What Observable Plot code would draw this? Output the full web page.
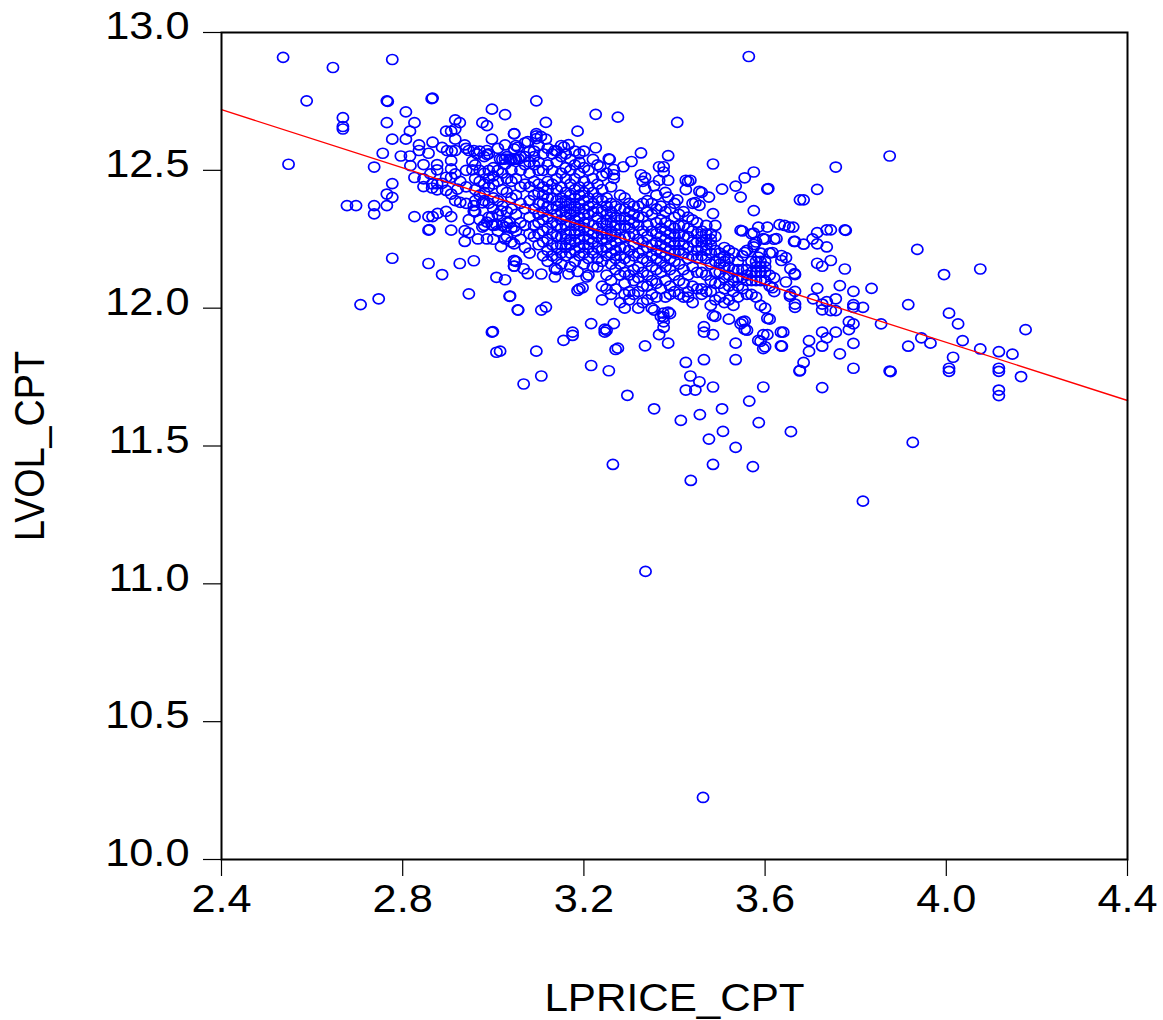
<!DOCTYPE html>
<html><head><meta charset="utf-8">
<script src="https://cdn.jsdelivr.net/npm/d3@7"></script>
<script src="https://cdn.jsdelivr.net/npm/@observablehq/plot@0.6"></script>
<style>html,body{margin:0;padding:0;background:#fff}svg{display:block}</style>
</head><body><div id="chart"></div>
<script>
const xTicks = [2.4,2.8,3.2,3.6,4.0,4.4];
const yTicks = [10,10.5,11,11.5,12,12.5,13];
const fitPrice = [2.4,4.4];
const fitVol = [12.72,11.665];

// Scattered points read one at a time: [LPRICE_CPT, LVOL_CPT]
const upperLeft = [[2.536,12.91],[2.646,12.873],[2.777,12.902],[2.588,12.752],[2.765,12.752],[2.767,12.75],[2.866,12.762],[2.864,12.76],[2.807,12.712],[2.668,12.691],[2.668,12.659],[2.668,12.65],[2.765,12.673],[2.826,12.673],[2.816,12.642],[2.807,12.613],[2.777,12.613],[2.548,12.522],[2.756,12.562],[2.737,12.512],[2.796,12.552],[2.816,12.552],[2.836,12.592],[2.836,12.572],[2.857,12.562],[2.866,12.602],[2.887,12.583],[2.916,12.683],[2.926,12.673],[2.896,12.642],[2.907,12.642],[2.916,12.65],[2.916,12.613],[2.937,12.592],[2.997,12.722],[3.026,12.702],[2.976,12.673],[2.986,12.662],[3.046,12.632],[2.997,12.613],[3.026,12.592],[2.817,12.517],[2.846,12.521],[2.876,12.521],[2.876,12.502],[2.826,12.474],[2.846,12.469],[2.846,12.441],[2.861,12.487],[2.865,12.451],[2.865,12.436],[2.876,12.451],[2.876,12.429],[2.887,12.453],[2.907,12.535],[2.907,12.505],[2.907,12.475],[2.896,12.475],[2.896,12.427],[2.907,12.414],[2.916,12.572],[2.898,12.572],[2.908,12.57],[2.927,12.46],[2.916,12.487],[2.921,12.432],[2.916,12.39],[2.927,12.384],[2.946,12.572],[2.957,12.572],[2.964,12.56],[2.986,12.572],[2.986,12.557],[2.954,12.533],[2.954,12.502],[3.015,12.541],[3.026,12.541],[3.036,12.541],[3.046,12.541],[3.056,12.541],[3.026,12.522],[3.046,12.578],[3.054,12.584]];
const lowerLeft = [[2.777,12.452],[2.765,12.414],[2.777,12.402],[2.677,12.372],[2.697,12.372],[2.737,12.372],[2.737,12.342],[2.765,12.372],[2.826,12.332],[2.857,12.332],[2.866,12.332],[2.877,12.344],[2.896,12.351],[2.907,12.332],[2.857,12.283],[2.859,12.285],[2.907,12.283],[2.946,12.321],[2.937,12.281],[2.946,12.273],[2.937,12.242],[2.966,12.251],[2.986,12.251],[2.957,12.372],[2.957,12.352],[2.976,12.382],[2.997,12.332],[3.017,12.353],[2.986,12.312],[2.997,12.302],[3.007,12.302],[2.976,12.294],[3.026,12.294],[3.036,12.312],[3.046,12.294],[3.026,12.251],[3.017,12.223],[3.046,12.233],[2.777,12.181],[2.857,12.162],[2.926,12.162],[2.957,12.172],[2.887,12.122],[3.007,12.112],[3.026,12.103],[2.946,12.052],[3.036,12.043],[2.707,12.013],[2.747,12.034],[3.054,11.994],[2.997,11.913],[2.999,11.915],[3.007,11.84],[3.046,12.173],[3.046,12.152]];
const upperMiddle = [[3.095,12.752],[3.226,12.703],[3.275,12.693],[3.116,12.674],[3.406,12.674],[3.046,12.633],[3.186,12.642],[3.095,12.633],[3.095,12.625],[3.095,12.615],[3.105,12.623],[3.116,12.613],[3.076,12.604],[3.166,12.593],[3.156,12.585],[3.136,12.572],[3.226,12.582],[3.326,12.563],[3.386,12.553],[3.485,12.523],[3.305,12.532],[3.255,12.542],[3.257,12.54],[3.287,12.513],[3.236,12.513],[3.266,12.503],[3.266,12.484],[3.266,12.471],[3.326,12.484],[3.335,12.474],[3.366,12.513],[3.376,12.513],[3.376,12.494],[3.366,12.464],[3.386,12.464],[3.355,12.444],[3.335,12.433],[3.575,12.494],[3.555,12.473],[3.535,12.443],[3.505,12.432],[3.605,12.432],[3.607,12.434],[3.425,12.464],[3.435,12.464],[3.425,12.43],[3.43,12.46],[3.455,12.424],[3.476,12.403],[3.546,12.403],[3.386,12.403],[3.406,12.393],[3.575,12.354],[3.485,12.343],[3.446,12.383],[3.455,12.373],[3.564,12.913],[3.677,12.393]];
const rightSide = [[3.546,12.282],[3.585,12.294],[3.605,12.294],[3.632,12.303],[3.643,12.3],[3.653,12.294],[3.662,12.294],[3.575,12.272],[3.596,12.252],[3.625,12.252],[3.664,12.242],[3.575,12.231],[3.575,12.222],[3.555,12.202],[3.616,12.202],[3.636,12.191],[3.646,12.183],[3.585,12.185],[3.636,12.173],[3.656,12.143],[3.665,12.125],[3.646,12.095],[3.616,12.074],[3.875,12.552],[3.756,12.512],[3.715,12.431],[3.685,12.393],[3.936,12.213],[4.075,12.142],[3.995,12.122],[3.776,12.284],[3.778,12.282],[3.745,12.284],[3.736,12.284],[3.715,12.274],[3.705,12.251],[3.666,12.242],[3.685,12.232],[3.715,12.233],[3.736,12.222],[3.715,12.163],[3.726,12.152],[3.745,12.173],[3.776,12.142],[3.666,12.122],[3.715,12.072],[3.765,12.082],[3.795,12.061],[3.835,12.072],[3.666,12.061],[3.655,12.05],[3.655,12.043],[3.666,12.015],[3.666,12.003],[3.706,12.034],[3.726,12.015],[3.726,11.994],[3.736,12.024],[3.745,11.991],[3.756,12.034],[3.756,11.991],[3.795,12.013],[3.795,12.003],[3.816,12.003],[3.916,12.013],[3.785,11.951],[3.795,11.943],[3.785,11.922],[3.856,11.943],[4.006,11.982],[4.026,11.943],[4.175,11.922],[3.726,11.913],[3.756,11.913],[3.736,11.892],[3.697,11.882],[3.726,11.862],[3.697,11.843],[3.795,11.872],[3.765,11.834],[3.916,11.862],[3.945,11.892],[3.965,11.873],[4.036,11.882],[4.015,11.822],[4.075,11.852],[4.116,11.842],[4.146,11.833],[4.165,11.752],[4.006,11.782],[4.006,11.771],[4.116,11.782],[4.116,11.771],[4.116,11.703],[4.116,11.683],[3.875,11.772],[3.877,11.77],[3.795,11.782],[3.685,11.803],[3.676,11.772],[3.726,11.712],[3.657,11.552],[3.926,11.513],[3.64,11.913],[3.637,11.862],[3.816,11.3]];
const lowerMiddle = [[3.076,12.125],[3.067,12.143],[3.046,12.173],[3.046,12.153],[3.106,12.124],[3.136,12.144],[3.136,12.113],[3.166,12.124],[3.186,12.133],[3.206,12.113],[3.037,12.044],[3.055,11.993],[3.106,11.993],[3.116,12.004],[3.186,12.064],[3.197,12.074],[3.216,11.944],[3.155,11.883],[3.175,11.913],[3.175,11.901],[3.266,11.944],[3.246,11.924],[3.246,11.913],[3.015,11.844],[3.095,11.844],[3.275,11.855],[3.335,11.863],[3.376,11.968],[3.376,11.95],[3.376,11.93],[3.366,11.904],[3.386,11.873],[3.386,11.986],[3.375,11.982],[3.355,11.993],[3.216,11.792],[3.255,11.773],[3.106,11.754],[3.067,11.725],[3.296,11.684],[3.355,11.635],[3.425,11.803],[3.465,11.813],[3.535,11.813],[3.435,11.754],[3.455,11.733],[3.425,11.703],[3.446,11.703],[3.485,11.714],[3.596,11.714],[3.565,11.663],[3.505,11.635],[3.465,11.933],[3.465,11.913],[3.485,11.904],[3.485,11.973],[3.555,11.953],[3.546,11.943],[3.555,11.923],[3.535,11.873],[3.596,11.904],[3.605,11.904],[3.585,11.883],[3.596,11.853],[3.635,11.913],[3.635,11.863],[3.605,11.963],[3.336,11.045],[3.463,10.225],[3.436,11.375],[3.264,11.433],[3.573,11.425],[3.485,11.433],[3.535,11.495],[3.476,11.525],[3.507,11.553],[3.456,11.614],[3.586,11.585],[3.414,11.593],[3.677,11.774]];

// The dense body of the cloud, read column by column
const coreX = [2.94,2.96,2.97,2.98,2.99,3.00,3.01,3.02,3.03,3.04,3.05,3.06,3.07,3.08,3.09,3.10,3.11,3.12,3.13,3.14,3.15,3.16,3.17,3.18,3.19,3.20,3.21,3.22,3.23,3.24,3.25,3.26,3.27,3.28,3.29,3.30,3.31,3.32,3.33,3.34,3.35,3.36,3.37,3.38,3.39,3.40,3.41,3.42,3.43,3.44,3.45,3.46,3.47,3.48,3.49,3.50,3.51,3.52,3.53,3.54,3.55,3.56,3.57,3.58,3.59,3.60,3.61,3.62];
const coreY = [
[12.58,12.50,12.44,12.38],
[12.52,12.47,12.43,12.39,12.35],
[12.57,12.50,12.46,12.41,12.32],
[12.55,12.49,12.45,12.42,12.39,12.30],
[12.56,12.50,12.47,12.44,12.38,12.33],
[12.51,12.48,12.45,12.40,12.36,12.30,12.25],
[12.58,12.50,12.46,12.39,12.34,12.28],
[12.54,12.49,12.43,12.37,12.30],
[12.55,12.47,12.42,12.35,12.31,12.26],
[12.54,12.50,12.46,12.40,12.36,12.29,12.24],
[12.59,12.54,12.47,12.41,12.34,12.28,12.17],
[12.55,12.50,12.44,12.38,12.31,12.25],
[12.60,12.55,12.52,12.45,12.36,12.30,12.22],
[12.57,12.53,12.49,12.44,12.39,12.33,12.27,12.20],
[12.57,12.55,12.52,12.46,12.41,12.36,12.30,12.26],
[12.59,12.53,12.50,12.45,12.42,12.38,12.34,12.31,12.27,12.23],
[12.56,12.50,12.44,12.41,12.38,12.35,12.32,12.28,12.24,12.19],
[12.58,12.52,12.46,12.43,12.40,12.37,12.33,12.29,12.25,12.21,12.17],
[12.56,12.50,12.45,12.40,12.36,12.31,12.27,12.23,12.19],
[12.57,12.53,12.47,12.43,12.39,12.37,12.34,12.30,12.26,12.22,12.18,12.14],
[12.59,12.55,12.49,12.44,12.40,12.38,12.35,12.32,12.29,12.26,12.23,12.20,12.16],
[12.56,12.51,12.47,12.42,12.39,12.37,12.35,12.33,12.30,12.27,12.25,12.22,12.19],
[12.54,12.50,12.45,12.41,12.38,12.36,12.34,12.31,12.28,12.25,12.23,12.20,12.15],
[12.57,12.52,12.47,12.43,12.40,12.37,12.35,12.32,12.30,12.27,12.24,12.21,12.17],
[12.56,12.53,12.49,12.44,12.41,12.38,12.36,12.33,12.30,12.28,12.25,12.22,12.19,12.07],
[12.57,12.51,12.46,12.42,12.39,12.36,12.34,12.31,12.29,12.26,12.23,12.20,12.16],
[12.50,12.44,12.40,12.37,12.34,12.31,12.28,12.25,12.22,12.18,12.12],
[12.54,12.47,12.42,12.38,12.35,12.30,12.27,12.24,12.20,12.15],
[12.52,12.45,12.40,12.36,12.33,12.29,12.26,12.22,12.18,12.15],
[12.48,12.43,12.39,12.35,12.31,12.27,12.25,12.21,12.17,12.08,12.03],
[12.49,12.40,12.37,12.34,12.32,12.30,12.27,12.25,12.22,12.19,12.12,12.07,11.92],
[12.44,12.38,12.35,12.33,12.31,12.28,12.26,12.23,12.20,12.16,12.10,12.05],
[12.37,12.33,12.30,12.27,12.24,12.21,12.18,12.14,12.07,11.85],
[12.41,12.36,12.32,12.29,12.25,12.22,12.19,12.16,12.12,12.02],
[12.40,12.36,12.33,12.30,12.26,12.22,12.18,12.13,12.09,12.05,12.00],
[12.38,12.35,12.32,12.29,12.26,12.21,12.17,12.12,12.06,12.03],
[12.37,12.34,12.31,12.27,12.23,12.19,12.14,12.10,12.05],
[12.37,12.33,12.30,12.25,12.20,12.15,12.11,12.06,12.00],
[12.46,12.38,12.33,12.28,12.24,12.21,12.18,12.13,12.08,12.02],
[12.39,12.35,12.30,12.26,12.22,12.17,12.12,12.08,12.03],
[12.38,12.34,12.28,12.23,12.19,12.15,12.10,12.05,12.00],
[12.41,12.36,12.31,12.27,12.24,12.21,12.18,12.14,12.09,12.04],
[12.37,12.32,12.29,12.26,12.23,12.20,12.17,12.13,12.07,11.97],
[12.42,12.35,12.31,12.28,12.25,12.22,12.19,12.15,12.10,12.04],
[12.36,12.30,12.27,12.24,12.21,12.18,12.14,12.08,12.05,11.98],
[12.38,12.33,12.29,12.26,12.23,12.20,12.17,12.12,12.06],
[12.34,12.30,12.27,12.24,12.21,12.16,12.10,12.05],
[12.35,12.30,12.26,12.23,12.20,12.14,12.09,12.04],
[12.33,12.29,12.26,12.22,12.18,12.12,12.06,12.04],
[12.38,12.32,12.28,12.24,12.19,12.15,12.08,12.02],
[12.31,12.27,12.24,12.21,12.18,12.13,12.07],
[12.42,12.28,12.26,12.24,12.22,12.19,12.13,12.07,12.05],
[12.30,12.27,12.25,12.23,12.21,12.18,12.12,12.06],
[12.27,12.25,12.23,12.20,12.16,12.10,12.06,12.01],
[12.30,12.26,12.21,12.17,12.13,12.09,12.03,11.97],
[12.20,12.18,12.16,12.13,12.09,12.04],
[12.22,12.19,12.17,12.15,12.11,12.07,12.02],
[12.21,12.18,12.15,12.12,12.08,12.03,11.96],
[12.20,12.14,12.10,12.06,12.01],
[12.17,12.14,12.11,12.08,12.04],
[12.28,12.19,12.14,12.11,12.07,11.95],
[12.21,12.14,12.12,12.10,12.05,11.92],
[12.27,12.17,12.13,12.10,12.05],
[12.24,12.17,12.15,12.13,12.10,12.04],
[12.20,12.17,12.15,12.13,12.10,12.01,11.88],
[12.25,12.17,12.15,12.13,12.10,12.00,11.86],
[12.20,12.12,12.08,11.96],
[12.25,12.11,12.06]
];

const points = [...upperLeft,...lowerLeft,...upperMiddle,...rightSide,...lowerMiddle,
  ...coreX.flatMap((x,i)=>coreY[i].map(y=>[x,y]))];
const fit = fitPrice.map((x,i)=>[x,fitVol[i]]);

// slightly wide circle, as in the reference
const ring = {draw(ctx,size){
  const ry=Math.sqrt(size/Math.PI), rx=ry*1.12, k=0.5523;
  ctx.moveTo(rx,0);
  ctx.bezierCurveTo(rx,k*ry,k*rx,ry,0,ry);
  ctx.bezierCurveTo(-k*rx,ry,-rx,k*ry,-rx,0);
  ctx.bezierCurveTo(-rx,-k*ry,-k*rx,-ry,0,-ry);
  ctx.bezierCurveTo(k*rx,-ry,rx,-k*ry,rx,0);
  ctx.closePath();
}};

const chart = Plot.plot({
  width:1163,height:1020,
  marginLeft:221,marginRight:36,marginTop:32,marginBottom:161,
  style:{fontFamily:"'Liberation Sans',Arial,sans-serif",background:"#fff",color:"#000"},
  x:{domain:[2.4,4.4]},
  y:{domain:[10,13]},
  marks:[
    Plot.dot(points,{x:d=>d[0],y:d=>d[1],r:5,symbol:ring,stroke:"#0000ff",strokeWidth:1.7,fill:"none"}),
    Plot.line(fit,{x:d=>d[0],y:d=>d[1],stroke:"#ff0000",strokeWidth:1.4}),
    Plot.frame({stroke:"#000",strokeWidth:2}),
    Plot.axisX({ticks:xTicks,tickFormat:d3.format(".1f"),tickSize:17,tickPadding:9,fontSize:38,stroke:"#000",strokeWidth:1.2,label:"LPRICE_CPT",labelAnchor:"center",labelArrow:"none",labelOffset:151}),
    Plot.axisY({ticks:yTicks,tickFormat:d3.format(".1f"),tickSize:18,tickPadding:14,fontSize:38,stroke:"#000",strokeWidth:1.2,label:"LVOL_CPT",labelAnchor:"center",labelArrow:"none",labelOffset:208})
  ]
});
document.getElementById("chart").appendChild(chart);

// The reference's type is stretched: widen the labels to the same measure
const stretch = (selector, factor) => chart.querySelectorAll(selector).forEach(t => {
  t.setAttribute("lengthAdjust","spacingAndGlyphs");
  t.setAttribute("textLength",(t.getComputedTextLength()*factor).toFixed(1));
});
stretch('g[aria-label="x-axis tick label"] text',1.14);
stretch('g[aria-label="y-axis tick label"] text',1.14);
stretch('g[aria-label="x-axis label"] text',1.11);
const yTickLabels = chart.querySelector('g[aria-label="y-axis tick label"]');
yTickLabels.setAttribute("transform",(yTickLabels.getAttribute("transform")||"")+" translate(0,-5.5)");
const yLabel = chart.querySelector('g[aria-label="y-axis label"] text');
yLabel.setAttribute("font-size","43");
yLabel.style.fontSize="43px";
yLabel.setAttribute("lengthAdjust","spacingAndGlyphs");
yLabel.setAttribute("textLength","190");
</script></body></html>
